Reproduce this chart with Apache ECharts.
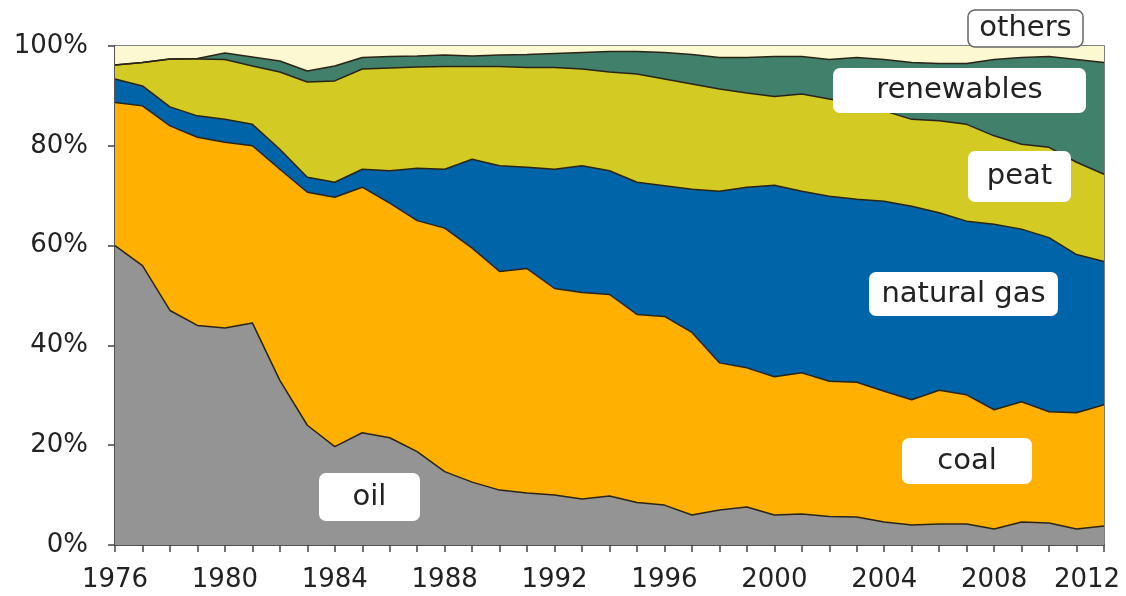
<!DOCTYPE html>
<html>
<head>
<meta charset="utf-8">
<script src="https://cdn.jsdelivr.net/npm/echarts@6/dist/echarts.min.js"></script>
<style>
  html, body { margin: 0; padding: 0; background: #fff; }
  #chart { width: 1126px; height: 596px; }
</style>
</head>
<body>
<div id="chart"></div>
<script>
// shares of primary energy by source, percent of total
const years = [];
for (let y = 1976; y <= 2012; y++) years.push(String(y));

const oil = [60, 56, 47, 44, 43.5, 44.5, 33, 24, 19.7, 22.5, 21.5, 18.7, 14.7, 12.6, 11, 10.4, 10, 9.2, 9.8, 8.5,
  8, 6, 7, 7.6, 6, 6.2, 5.7, 5.6, 4.6, 4, 4.2, 4.2, 3.2, 4.6, 4.4, 3.2, 3.8];
const coal = [28.7, 32, 37, 37.7, 37.2, 35.5, 42.3, 46.7, 50, 49.2, 47, 46.3, 48.8, 46.9, 43.8, 45, 41.4, 41.4, 40.4, 37.7,
  37.8, 36.6, 29.5, 27.9, 27.7, 28.3, 27.1, 27, 26.2, 25.1, 26.8, 25.9, 23.9, 24.1, 22.3, 23.3, 24.3];
const naturalGas = [4.7, 4, 3.8, 4.3, 4.6, 4.3, 4, 3, 3, 3.6, 6.5, 10.5, 11.8, 17.8, 21.2, 20.3, 23.9, 25.4, 24.8, 26.5,
  26.2, 28.7, 34.4, 36.2, 38.4, 36.4, 37.1, 36.7, 38.1, 38.8, 35.6, 34.8, 37.2, 34.6, 34.9, 31.7, 28.7];
const peat = [2.8, 4.7, 9.6, 11.4, 12, 11.7, 15.5, 19.1, 20.3, 20.1, 20.6, 20.3, 20.6, 18.6, 19.9, 20, 20.4, 19.4, 19.8, 21.7,
  21.4, 21.1, 20.5, 18.9, 17.8, 19.5, 19.5, 19.2, 18.1, 17.4, 18.4, 19.4, 17.7, 17, 18.1, 18.5, 17.5];
const renewables = [0, 0, 0, 0.1, 1.3, 1.8, 2.2, 2.2, 3, 2.3, 2.3, 2.2, 2.3, 2.1, 2.3, 2.6, 2.8, 3.3, 4.1, 4.5,
  5.3, 5.9, 6.3, 7.1, 8, 7.5, 7.9, 9.2, 10.3, 11.4, 11.5, 12.2, 15.3, 17.4, 18.2, 20.6, 22.4];
const others = [3.8, 3.3, 2.6, 2.5, 1.4, 2.2, 3, 5, 4, 2.3, 2.1, 2, 1.8, 2, 1.8, 1.7, 1.5, 1.3, 1.1, 1.1,
  1.3, 1.7, 2.3, 2.3, 2.1, 2.1, 2.7, 2.3, 2.7, 3.3, 3.5, 3.5, 2.7, 2.3, 2.1, 2.7, 3.3];

const yTicks = [0, 20, 40, 60, 80, 100];

const chart = echarts.init(document.getElementById('chart'));
const font = 'DejaVu Sans, Verdana, sans-serif';
const edge = '#2a2416';

function area(name, data, color, lineW) {
  return {
    name: name,
    type: 'line',
    stack: 'total',
    data: data,
    symbol: 'none',
    lineStyle: { color: edge, width: lineW },
    areaStyle: { color: color, opacity: 1 },
    itemStyle: { color: color },
    z: 2
  };
}

// white rounded label boxes
function tag(text, x, y, w, h, border) {
  return [
    {
      type: 'rect',
      z: 100,
      shape: { x: x, y: y, width: w, height: h, r: 7 },
      style: { fill: '#fff', stroke: border ? '#666' : null, lineWidth: border ? 1.5 : 0 }
    },
    {
      type: 'text',
      z: 101,
      x: x + w / 2,
      y: y + h / 2,
      style: {
        text: text, fill: '#222', font: '29px ' + font,
        align: 'center', verticalAlign: 'middle'
      }
    }
  ];
}

chart.setOption({
  animation: false,
  backgroundColor: '#fff',
  grid: {
    left: 115, right: 22, top: 46, bottom: 51,
    outerBoundsMode: 'none',
    containLabel: false,
    show: true, borderColor: '#555', borderWidth: 1.5
  },
  xAxis: {
    type: 'category',
    data: years,
    boundaryGap: false,
    axisLine: { lineStyle: { color: '#444', width: 1.5 } },
    axisTick: { show: true, interval: 0, length: 7, lineStyle: { color: '#444', width: 1.5 } },
    axisLabel: {
      interval: 3, color: '#222', fontSize: 26, fontFamily: font, margin: 22,
      formatter: (v, i) => (i === years.length - 1 ? '{e|' + v + '}' : v),
      rich: { e: { fontSize: 26, fontFamily: font, color: '#222', padding: [0, 34, 0, 0] } }
    },
    splitLine: { show: false }
  },
  yAxis: {
    type: 'value',
    min: 0, max: 100, interval: 20,
    axisLine: { show: true, lineStyle: { color: '#444', width: 1.5 } },
    axisTick: { show: true, length: 7, lineStyle: { color: '#444', width: 1.5 } },
    axisLabel: {
      color: '#222', fontSize: 26, fontFamily: font, margin: 27,
      formatter: v => (yTicks.includes(v) ? v + '%' : '')
    },
    splitLine: { show: false }
  },
  series: [
    area('oil', oil, '#949494', 1.5),
    area('coal', coal, '#FFB000', 1.5),
    area('natural gas', naturalGas, '#0064A9', 1.5),
    area('peat', peat, '#D3CA24', 1.5),
    area('renewables', renewables, '#41806B', 1.5),
    area('others', others, '#FCF9D2', 0)
  ],
  graphic: [].concat(
    tag('others', 968, 10, 115, 37, true),
    tag('renewables', 833, 68, 253, 45),
    tag('peat', 968, 151, 103, 51),
    tag('natural gas', 869, 272, 189, 44),
    tag('coal', 902, 438, 130, 46),
    tag('oil', 319, 473, 101, 48)
  )
});
</script>
</body>
</html>
